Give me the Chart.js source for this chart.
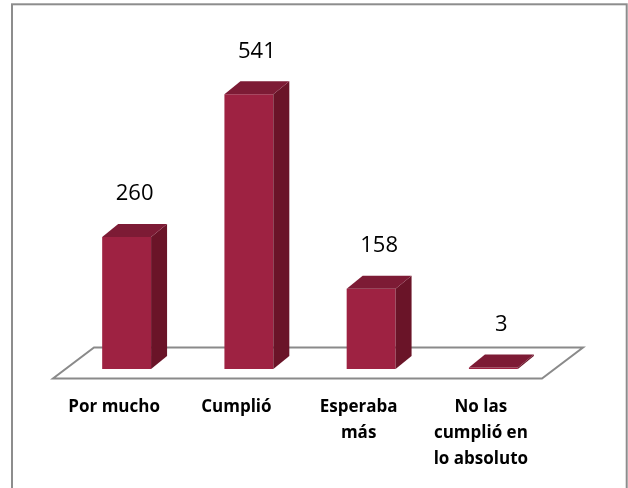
<!DOCTYPE html>
<html lang="es">
<head>
<meta charset="UTF-8">
<title>Expectativas</title>
<script src="https://cdn.jsdelivr.net/npm/chart.js@4.4.1/dist/chart.umd.min.js"></script>
<style>
  body { margin: 0; background: #fff; }
  canvas { display: block; }
</style>
</head>
<body>
<canvas id="chart-expectativas" width="628" height="488"></canvas>
<script>
// Datos
const categorias = [['Por mucho'], ['Cumplió'], ['Esperaba', 'más'], ['No las', 'cumplió en', 'lo absoluto']];
const respuestas = [260, 541, 158, 3];

// Colores de las caras del prisma
const FRENTE = '#9e2242';
const LADO = '#6a1428';
const TAPA = '#7d1b35';
const PROF = { x: 16, y: -13 };

function poligono(ctx, pts, fill) {
    ctx.beginPath();
    ctx.moveTo(pts[0][0], pts[0][1]);
    pts.slice(1).forEach(p => ctx.lineTo(p[0], p[1]));
    ctx.closePath();
    ctx.fillStyle = fill;
    ctx.fill();
}

const efecto3d = {
    id: 'efecto3d',
    beforeDraw(chart) {
        // marco del grafico
        const ctx = chart.ctx;
        ctx.save();
        ctx.strokeStyle = '#8d8d8d';
        ctx.lineWidth = 2;
        ctx.strokeRect(12, 4.3, 614.7, 600);
        ctx.restore();
    },
    beforeDatasetsDraw(chart) {
        // piso en perspectiva
        const { ctx, chartArea: a, scales: { y } } = chart;
        const y0 = y.getPixelForValue(0);
        const fy = y0 + 9.5, by = y0 - 21.5;
        ctx.save();
        ctx.beginPath();
        ctx.moveTo(a.left - 12.5, fy);
        ctx.lineTo(a.right - 12.5, fy);
        ctx.lineTo(a.right + 28.5, by);
        ctx.lineTo(a.left + 28.5, by);
        ctx.closePath();
        ctx.fillStyle = '#fff';
        ctx.fill();
        ctx.strokeStyle = '#8a8a8a';
        ctx.lineWidth = 2;
        ctx.stroke();
        ctx.restore();
    },
    afterDatasetsDraw(chart) {
        const { ctx, scales: { x } } = chart;
        const meta = chart.getDatasetMeta(0);
        ctx.save();
        meta.data.forEach((bar, i) => {
            const l = bar.x - bar.width / 2, r = bar.x + bar.width / 2;
            const t = bar.y, b = bar.base;
            poligono(ctx, [[r, t], [r + PROF.x, t + PROF.y], [r + PROF.x, b + PROF.y], [r, b]], LADO);
            poligono(ctx, [[l, t], [l + PROF.x, t + PROF.y], [r + PROF.x, t + PROF.y], [r, t]], TAPA);

            // etiqueta de valor
            ctx.fillStyle = '#000';
            ctx.font = '22px "Open Sans"';
            ctx.textAlign = 'center';
            ctx.textBaseline = 'middle';
            ctx.fillText(String(respuestas[i]), bar.x + 8, t + PROF.y - 30);

            // etiqueta de categoria
            ctx.font = 'bold 17px "Open Sans"';
            const cx = x.getPixelForValue(i) - 12.5;
            categorias[i].forEach((linea, k) => ctx.fillText(linea, cx, 407 + k * 26));
        });
        ctx.restore();
    }
};

document.addEventListener('DOMContentLoaded', () => {
    const ctx = document.getElementById('chart-expectativas').getContext('2d');
    new Chart(ctx, {
        type: 'bar',
        data: {
            labels: categorias.map(c => c.join(' ')),
            datasets: [{
                label: 'Respuestas',
                data: respuestas,
                backgroundColor: FRENTE,
                barPercentage: 1,
                categoryPercentage: 0.4
            }]
        },
        options: {
            responsive: false,
            animation: false,
            layout: { padding: { left: 65.5, right: 73.5, top: 64.4, bottom: 119 } },
            plugins: { legend: { display: false }, tooltip: { enabled: false } },
            scales: {
                x: { display: false },
                y: { display: false, min: 0, max: 600 }
            }
        },
        plugins: [efecto3d]
    });
});
</script>
</body>
</html>
